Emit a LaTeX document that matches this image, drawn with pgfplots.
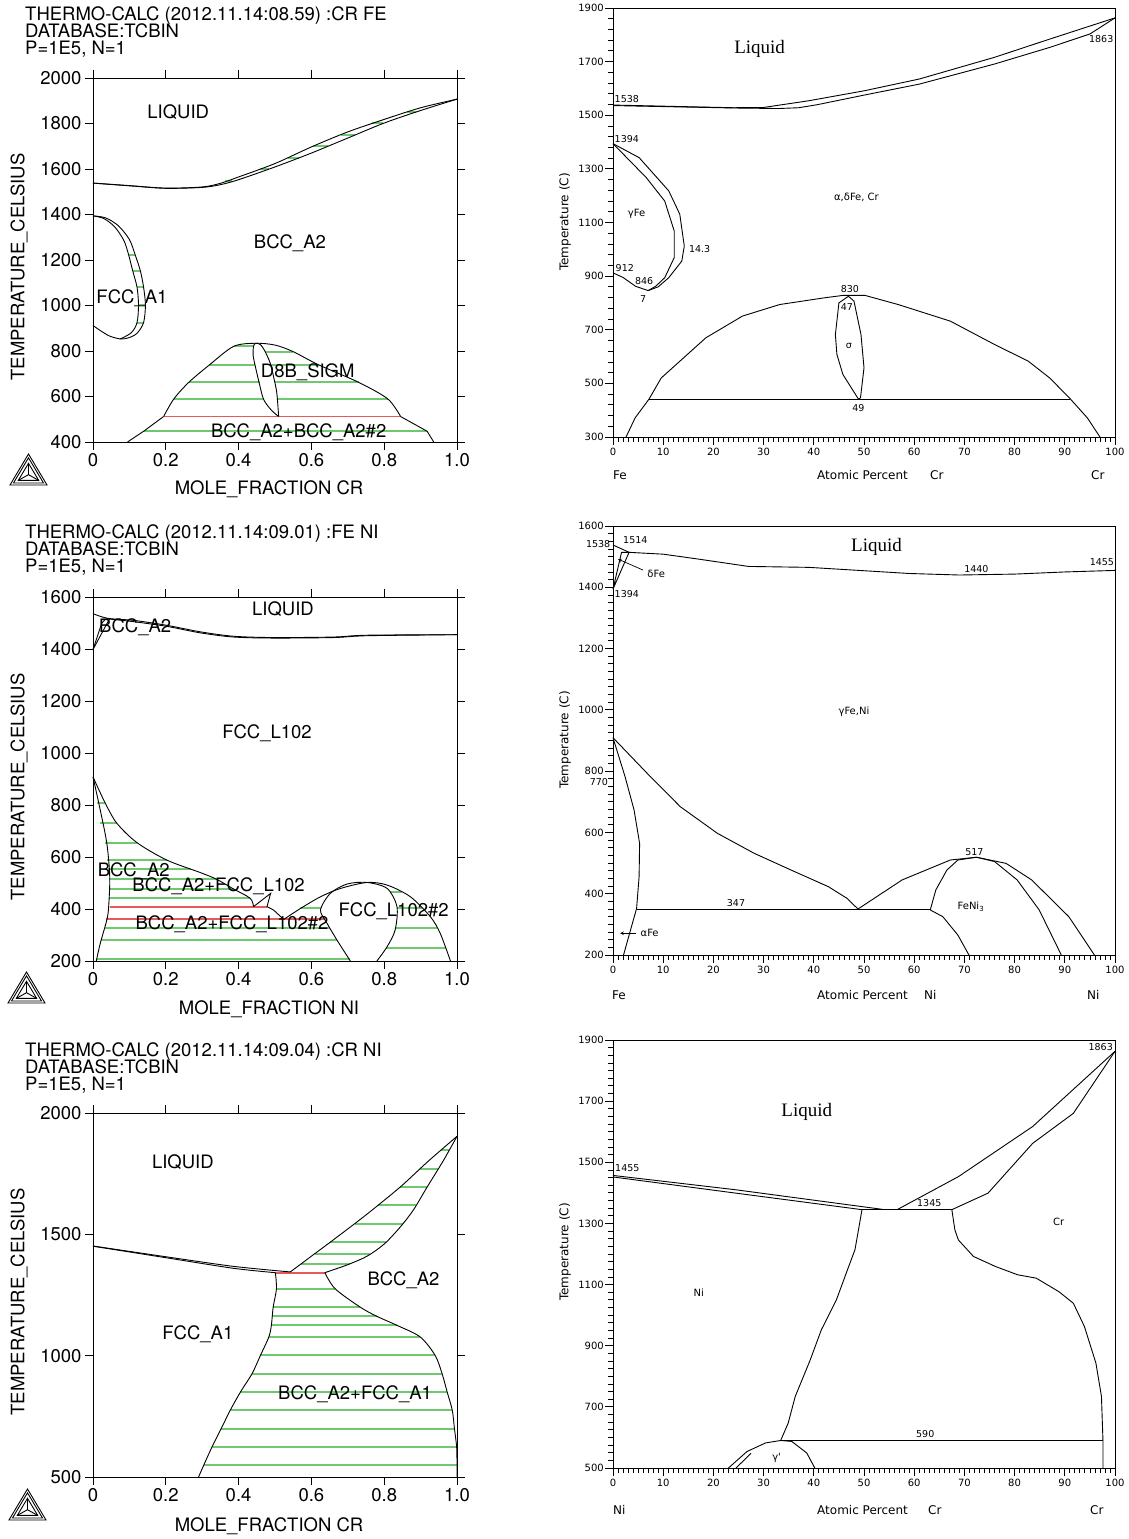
\documentclass[border=0pt]{standalone}
\usepackage{pgfplots}
\pgfplotsset{compat=1.18}
\usepackage{fontspec}
\setmainfont{TeX Gyre Heros}
\newfontfamily\heros{TeX Gyre Heros}
\newfontfamily\dvs{DejaVu Sans}
\newfontfamily\tms{Liberation Serif}
\definecolor{tcgreen}{RGB}{110,200,110}
\definecolor{tcred}{RGB}{232,90,90}
\newcommand{\fL}{\heros\fontsize{18.5}{18.5}\selectfont}
\newcommand{\fR}{\dvs\fontsize{10}{10}\selectfont}
\newcommand{\fRl}{\dvs\fontsize{12}{12}\selectfont}
\newcommand{\fRs}{\dvs\fontsize{9.5}{9.5}\selectfont}
\newcommand{\fT}{\tms\fontsize{19}{19}\selectfont}
\newcommand{\tclogo}[2]{%
 \begin{scope}[shift={(#1pt,#2pt)},line width=0.9pt]
  \draw (0pt,0pt)--(37pt,0pt)--(18.5pt,31pt)--cycle;
  \draw (3.5pt,2pt)--(33.5pt,2pt)--(18.5pt,27.2pt)--cycle;
  \draw (8.3pt,4.6pt)--(28.7pt,4.6pt)--(18.5pt,21.7pt)--cycle;
  \draw (18.5pt,10.3pt)--(8.3pt,4.6pt) (18.5pt,10.3pt)--(28.7pt,4.6pt) (18.5pt,10.3pt)--(18.5pt,21.7pt);
 \end{scope}}
\pgfplotsset{
  tcax/.style={width=364pt,height=364pt,scale only axis,anchor=south west,
    xmin=0,xmax=1,xtick={0,0.2,0.4,0.6,0.8,1},xticklabels={0,0.2,0.4,0.6,0.8,1.0},
    tick align=outside, major tick length=8pt,
    tick style={black,line width=0.8pt},
    axis line style={line width=0.9pt},
    ticklabel style={font=\fL},
    clip=false, unbounded coords=jump},
  stdax/.style={width=502pt,scale only axis,anchor=south west,
    xmin=0,xmax=100,xtick={0,10,...,100},minor x tick num=9,
    xticklabels={0,10,20,30,40,50,60,70,80,90,100},
    xtick pos=left, ytick pos=left,
    tick align=outside, major tick length=8pt, minor tick length=5pt,
    tick style={black,line width=0.8pt},
    axis line style={line width=0.9pt},
    ticklabel style={font=\fR},
    yticklabel style={inner xsep=1pt},
    clip=false, unbounded coords=jump},
  bl/.style={black,line width=0.9pt,no markers},
  gr/.style={tcgreen,line width=2pt,no markers},
  rd/.style={tcred,line width=1.8pt,no markers},
}
\begin{document}
\begin{tikzpicture}
\useasboundingbox (0pt,0pt) rectangle (1129pt,1539pt);

% ================= Panel 1: Cr-Fe Thermo-Calc =================
\begin{axis}[tcax, at={(93pt,1097pt)},
  ymin=400,ymax=2000,ytick={400,600,...,2000},
  yticklabels={400,600,800,1000,1200,1400,1600,1800,2000}]
\addplot[gr] coordinates {(0.364,1545)(0.382,1545)(nan,nan)(0.459,1600)(0.484,1600)(nan,nan)
 (0.536,1650)(0.567,1650)(nan,nan)(0.605,1700)(0.645,1700)(nan,nan)(0.680,1750)(0.721,1750)(nan,nan)
 (0.767,1800)(0.797,1800)(nan,nan)(0.863,1850)(0.887,1850)};
\addplot[gr] coordinates {(0.098,1222)(0.116,1222)(nan,nan)(0.109,1153)(0.130,1153)(nan,nan)
 (0.121,1080)(0.139,1080)(nan,nan)(0.125,1002)(0.144,1002)(nan,nan)(0.121,925)(0.139,925)};
\addplot[gr] coordinates {(0.386,820)(0.441,820)(nan,nan)(0.472,797)(0.55,797)(nan,nan)
 (0.32,739)(0.445,739)(nan,nan)(0.488,739)(0.62,739)(nan,nan)(0.263,662)(0.458,662)(nan,nan)
 (0.499,662)(0.73,662)(nan,nan)(0.222,589)(0.468,589)(nan,nan)(0.506,589)(0.81,589)(nan,nan)
 (0.139,447)(0.918,447)};
\addplot[rd] coordinates {(0.194,512)(0.845,512)};
\addplot[bl,smooth] coordinates {(0,1538)(0.1,1527)(0.2,1516)(0.3,1521)(0.35,1537)(0.4,1565)(0.5,1624)(0.6,1697)(0.7,1763)(0.8,1818)(0.9,1869)(1,1907)};
\addplot[bl,smooth] coordinates {(0,1538)(0.1,1526)(0.2,1515)(0.3,1519)(0.35,1531)(0.4,1553)(0.5,1609)(0.6,1670)(0.7,1736)(0.8,1802)(0.9,1857)(1,1907)};
\addplot[bl,smooth] coordinates {(0,1394)(0.03,1382)(0.06,1345)(0.085,1285)(0.098,1222)(0.109,1153)(0.121,1080)(0.125,1002)(0.121,925)(0.105,880)(0.075,853)};
\addplot[bl,smooth] coordinates {(0,1394)(0.035,1385)(0.07,1350)(0.1,1290)(0.116,1222)(0.130,1153)(0.139,1080)(0.144,1002)(0.139,925)(0.121,878)(0.098,858)(0.075,853)(0.045,866)(0.02,890)(0,912)};
\addplot[bl] coordinates {(0.095,400)(0.139,447)(0.194,512)};
\addplot[bl,smooth] coordinates {(0.194,512)(0.222,589)(0.263,662)(0.32,739)(0.386,820)(0.446,834)(0.50,826)(0.55,797)(0.62,739)(0.73,662)(0.81,589)(0.845,512)};
\addplot[bl] coordinates {(0.845,512)(0.918,447)(0.936,400)};
\addplot[bl,smooth] coordinates {(0.51,512)(0.49,540)(0.469,586)(0.458,650)(0.446,732)(0.440,780)(0.441,820)(0.447,834)(0.46,828)(0.472,800)(0.487,746)(0.497,680)(0.505,615)(0.51,512)};
\node[font=\fL] at (axis cs:0.234,1851) {LIQUID};
\node[font=\fL] at (axis cs:0.541,1275) {BCC\_A2};
\node[font=\fL] at (axis cs:0.107,1032) {FCC\_A1};
\node[font=\fL] at (axis cs:0.59,708) {D8B\_SIGM};
\node[font=\fL] at (axis cs:0.565,444) {BCC\_A2+BCC\_A2\#2};
\end{axis}
\node[font=\fL,anchor=base west,inner sep=0pt] at (25pt,1518.5pt) {THERMO-CALC (2012.11.14:08.59) :CR FE};
\node[font=\fL,anchor=base west,inner sep=0pt] at (25pt,1501.5pt) {DATABASE:TCBIN};
\node[font=\fL,anchor=base west,inner sep=0pt] at (25pt,1484.5pt) {P=1E5, N=1};
\node[font=\fL,rotate=90] at (19pt,1272pt) {TEMPERATURE\_CELSIUS};
\node[font=\fL,anchor=base] at (269pt,1044pt) {MOLE\_FRACTION CR};
\tclogo{10}{1054}

% ================= Panel 2: Fe-Cr standard =================
\begin{axis}[stdax, height=429pt, at={(613pt,1102pt)},
  ymin=300,ymax=1900,ytick={300,500,...,1900},minor y tick num=4,
  yticklabels={300,500,700,900,1100,1300,1500,1700,1900}]
\addplot[bl] coordinates {(0,1538)(12,1533)(24,1528)(30,1529)(39,1554)(50,1591)(61,1635)(76,1716)(87,1784)(100,1863)};
\addplot[bl] coordinates {(0,1536)(24,1527)(33,1525)(37,1528)(40.6,1539)(50,1575)(61,1616)(76,1691)(87,1753)(95,1803)(100,1863)};
\addplot[bl] coordinates {(0,1394)(5.2,1342)(11.1,1218)(13.3,1131)(14.2,1012)(13.7,956)(11.1,894)(9,860)(7,846)};
\addplot[bl] coordinates {(0,1394)(6.6,1268)(10.3,1180)(12.2,1068)(12.2,969)(10.3,894)(8.5,862)(7,846)};
\addplot[bl] coordinates {(0,912)(2,895)(4.5,862)(7,846)};
\addplot[bl] coordinates {(2.6,300)(4.4,371)(7.2,442)(9.6,520)(18.5,670)(25.8,751)(33.2,794)(42.1,819)(45.8,828)(50.2,828)(56.8,794)(67.2,732)(76,645)(82.7,583)(87,520)(91.1,442)(94.5,371)(97,300)};
\addplot[bl] coordinates {(7.2,441)(91.1,441)};
\addplot[bl] coordinates {(48.9,441)(45.8,533)(44.6,608)(44.3,682)(45,800)(46.9,825)(48,807)(49.4,682)(50,558)(49.3,446)(48.9,441)};
\node[font=\fRs,anchor=west,inner sep=0.5pt] at (axis cs:0.2,1562) {1538};
\node[font=\fRs,anchor=west,inner sep=0.5pt] at (axis cs:0.2,1413) {1394};
\node[font=\fRs,anchor=west,inner sep=0.5pt] at (axis cs:15,1000) {14.3};
\node[font=\fRs,anchor=west,inner sep=0.5pt] at (axis cs:0.4,931) {912};
\node[font=\fRs] at (axis cs:6.2,882) {846};
\node[font=\fRs] at (axis cs:6,813) {7};
\node[font=\fRs] at (axis cs:47.2,850) {830};
\node[font=\fRs] at (axis cs:46.6,786) {47};
\node[font=\fRs] at (axis cs:47,639) {σ};
\node[font=\fRs] at (axis cs:48.9,408) {49};
\node[font=\fRs,anchor=east,inner sep=0.5pt] at (axis cs:99.8,1784) {1863};
\node[font=\fT] at (axis cs:29.2,1747) {Liquid};
\node[font=\fR] at (axis cs:48.5,1193) {α,δFe, Cr};
\node[font=\fR] at (axis cs:4.7,1131) {γFe};
\end{axis}
\node[font=\fRl,rotate=90] at (565pt,1317pt) {Temperature (C)};
\node[font=\fRl,anchor=base west,inner sep=0pt] at (613pt,1059pt) {Fe};
\node[font=\fRl,anchor=base west,inner sep=0pt] at (817pt,1059pt) {Atomic Percent};
\node[font=\fRl,anchor=base west,inner sep=0pt] at (930pt,1059pt) {Cr};
\node[font=\fRl,anchor=base west,inner sep=0pt] at (1091pt,1059pt) {Cr};

% ================= Panel 3: Fe-Ni Thermo-Calc =================
\begin{axis}[tcax, at={(93pt,578pt)},
  ymin=200,ymax=1600,ytick={200,400,...,1600},
  yticklabels={200,400,600,800,1000,1200,1400,1600}]
\addplot[gr] coordinates {(0.011,806)(0.034,806)(nan,nan)(0.02,729)(0.066,729)(nan,nan)
 (0.034,655)(0.121,655)(nan,nan)(0.039,588)(0.203,588)(nan,nan)(0.041,552)(0.27,552)(nan,nan)
 (0.044,514)(0.34,514)(nan,nan)(0.045,477)(0.386,477)(nan,nan)(0.045,441)(0.432,441)(nan,nan)
 (0.032,326)(0.651,326)(nan,nan)(0.023,281)(0.67,281)(nan,nan)(0.01,206)(0.705,206)(nan,nan)
 (0.57,402)(0.625,402)(nan,nan)(0.815,466)(0.85,466)(nan,nan)(0.835,402)(0.904,402)(nan,nan)
 (0.832,328)(0.945,328)(nan,nan)(0.806,251)(0.969,251)};
\addplot[rd] coordinates {(0.046,409)(0.478,409)};
\addplot[rd] coordinates {(0.037,360)(0.638,360)};
\addplot[rd] coordinates {(0.035,1517)(0.05,1517)};
\addplot[bl,smooth] coordinates {(0,1536)(0.04,1518)(0.112,1510)(0.203,1491)(0.295,1466)(0.386,1449)(0.496,1444)(0.661,1446)(0.753,1453)(1,1455)};
\addplot[bl,smooth] coordinates {(0.045,1515)(0.112,1505)(0.203,1487)(0.295,1462)(0.386,1446)(0.496,1442)(0.661,1444)(0.753,1451)(1,1455)};
\addplot[bl] coordinates {(0,1398)(0.024,1499)(0.035,1516)};
\addplot[bl] coordinates {(0,1398)(0.045,1515)};
\addplot[bl,smooth] coordinates {(0,908)(0.02,780)(0.038,652)(0.046,524)(0.043,409)(0.038,358)(0.02,268)(0.009,200)};
\addplot[bl,smooth] coordinates {(0,908)(0.034,806)(0.066,729)(0.121,655)(0.203,588)(0.295,540)(0.34,514)(0.386,477)(0.432,441)(0.441,409)};
\addplot[bl] coordinates {(0.441,409)(0.488,460)(0.478,409)(0.496,396)(0.524,360)};
\addplot[bl,smooth] coordinates {(0.524,360)(0.57,402)(0.625,447)(0.68,479)(0.753,502)(0.808,492)(0.872,447)(0.927,370)(0.954,306)(0.982,200)};
\addplot[bl,smooth] coordinates {(0.707,200)(0.67,281)(0.643,345)(0.625,396)(0.652,460)(0.698,496)(0.753,502)(0.808,479)(0.835,409)(0.83,319)(0.808,255)(0.78,200)};
\node[font=\fL] at (axis cs:0.522,1553) {LIQUID};
\node[font=\fL] at (axis cs:0.116,1485) {BCC\_A2};
\node[font=\fL] at (axis cs:0.478,1075) {FCC\_L102};
\node[font=\fL] at (axis cs:0.112,547) {BCC\_A2};
\node[font=\fL] at (axis cs:0.345,486) {BCC\_A2+FCC\_L102};
\node[font=\fL] at (axis cs:0.382,341) {BCC\_A2+FCC\_L102\#2};
\node[font=\fL] at (axis cs:0.826,390) {FCC\_L102\#2};
\end{axis}
\node[font=\fL,anchor=base west,inner sep=0pt] at (25pt,1000pt) {THERMO-CALC (2012.11.14:09.01) :FE NI};
\node[font=\fL,anchor=base west,inner sep=0pt] at (25pt,983pt) {DATABASE:TCBIN};
\node[font=\fL,anchor=base west,inner sep=0pt] at (25pt,966pt) {P=1E5, N=1};
\node[font=\fL,rotate=90] at (19pt,752pt) {TEMPERATURE\_CELSIUS};
\node[font=\fL,anchor=base] at (269pt,524pt) {MOLE\_FRACTION NI};
\tclogo{8}{536}

% ================= Panel 4: Fe-Ni standard =================
\begin{axis}[stdax, height=429pt, at={(613pt,584pt)},
  ymin=200,ymax=1600,ytick={200,400,...,1600},minor y tick num=7,
  yticklabels={200,400,600,800,1000,1200,1400,1600}]
\addplot[bl] coordinates {(0,1538)(3.2,1514)(10,1508)(17,1492)(27,1468)(39,1465)(49,1455)(59,1445)(69,1440)(80,1443)(90,1450)(100,1455)};
\addplot[bl] coordinates {(0,1394)(1.7,1514)(3.2,1514)(0,1394)};
\addplot[bl] coordinates {(0,909)(2.4,782)(4.2,673)(5.3,564)(5.2,456)(4.7,352)(3.5,282)(2.1,200)};
\addplot[bl] coordinates {(0,909)(6.8,793)(13.4,684)(20.8,597)(28.1,532)(35.5,477)(42.9,423)(46.6,385)(48.8,350)};
\addplot[bl] coordinates {(4.7,347)(63.2,347)};
\addplot[bl] coordinates {(48.8,350)(57.6,445)(67.2,510)(72.4,519)(78.3,499)(83.4,445)(90.8,325)(95.9,200)};
\addplot[bl] coordinates {(63.2,347)(64.3,412)(66.5,477)(68.7,510)(72.4,519)(76,505)(80.5,445)(84.9,347)(89.3,200)};
\addplot[bl] coordinates {(63.2,347)(65.7,325)(68.7,265)(70.9,200)};
\draw[line width=0.7pt,-stealth] (axis cs:6,1456) -- (axis cs:1,1492);
\draw[line width=0.7pt,-stealth] (axis cs:4.6,271) -- (axis cs:1.4,271);
\node[font=\fRs,anchor=east,inner sep=0.5pt] at (axis cs:-0.4,1540) {1538};
\node[font=\fRs,anchor=west,inner sep=0.5pt] at (axis cs:1.9,1554) {1514};
\node[font=\fRs,anchor=west,inner sep=0.5pt] at (axis cs:0.2,1378) {1394};
\node[font=\fR] at (axis cs:8.6,1445) {δFe};
\node[font=\fRs] at (axis cs:72.4,1458) {1440};
\node[font=\fRs] at (axis cs:97.4,1481) {1455};
\node[font=\fT] at (axis cs:52.5,1532) {Liquid};
\node[font=\fR] at (axis cs:48,994) {γFe,Ni};
\node[font=\fRs] at (axis cs:-2.8,766) {770};
\node[font=\fRs] at (axis cs:72,537) {517};
\node[font=\fRs] at (axis cs:24.5,369) {347};
\node[font=\fR] at (axis cs:71.3,358) {FeNi\textsubscript{3}};
\node[font=\fR] at (axis cs:7.3,271) {αFe};
\end{axis}
\node[font=\fRl,rotate=90] at (565pt,799pt) {Temperature (C)};
\node[font=\fRl,anchor=base west,inner sep=0pt] at (612pt,539pt) {Fe};
\node[font=\fRl,anchor=base west,inner sep=0pt] at (817pt,539pt) {Atomic Percent};
\node[font=\fRl,anchor=base west,inner sep=0pt] at (924pt,539pt) {Ni};
\node[font=\fRl,anchor=base west,inner sep=0pt] at (1087pt,539pt) {Ni};

% ================= Panel 5: Cr-Ni Thermo-Calc =================
\begin{axis}[tcax, at={(93pt,62pt)},
  ymin=500,ymax=2000,ytick={500,1000,1500,2000},
  yticklabels={500,1000,1500,2000}]
\addplot[gr] coordinates {(0.572,1379)(0.706,1379)(nan,nan)(0.609,1420)(0.762,1420)(nan,nan)
 (0.652,1468)(0.805,1468)(nan,nan)(0.719,1544)(0.851,1544)(nan,nan)(0.782,1619)(0.888,1619)(nan,nan)
 (0.844,1695)(0.918,1695)(nan,nan)(0.899,1771)(0.949,1771)(nan,nan)(0.955,1846)(0.978,1846)};
\addplot[gr] coordinates {(0.504,1276)(0.665,1276)(nan,nan)(0.495,1200)(0.734,1200)(nan,nan)
 (0.492,1162)(0.78,1162)(nan,nan)(0.49,1125)(0.835,1125)(nan,nan)(0.483,1077)(0.899,1077)(nan,nan)
 (0.46,1001)(0.94,1001)(nan,nan)(0.437,926)(0.959,926)(nan,nan)(0.405,850)(0.973,850)(nan,nan)
 (0.377,775)(0.987,775)(nan,nan)(0.352,699)(0.993,699)(nan,nan)(0.327,624)(0.999,624)(nan,nan)
 (0.304,548)(1,548)};
\addplot[rd] coordinates {(0.501,1342)(0.637,1342)};
\addplot[bl,smooth] coordinates {(0,1452)(0.203,1407)(0.386,1368)(0.542,1345)};
\addplot[bl,smooth] coordinates {(0,1451)(0.203,1403)(0.386,1360)(0.501,1342)};
\addplot[bl,smooth] coordinates {(0.542,1345)(0.60,1410)(0.661,1478)(0.75,1580)(0.844,1695)(0.92,1800)(1,1904)};
\addplot[bl,smooth] coordinates {(0.637,1342)(0.70,1375)(0.753,1410)(0.80,1460)(0.844,1530)(0.88,1600)(0.918,1695)(0.963,1805)(1,1904)};
\addplot[bl,smooth] coordinates {(0.501,1342)(0.504,1276)(0.495,1200)(0.49,1125)(0.483,1077)(0.46,1001)(0.437,926)(0.405,850)(0.377,775)(0.352,699)(0.327,624)(0.304,548)(0.29,500)};
\addplot[bl,smooth] coordinates {(0.637,1342)(0.665,1276)(0.734,1200)(0.78,1162)(0.835,1125)(0.899,1077)(0.94,1001)(0.959,926)(0.973,850)(0.987,775)(0.993,699)(0.999,624)(1,548)(1,500)};
\node[font=\fL] at (axis cs:0.247,1798) {LIQUID};
\node[font=\fL] at (axis cs:0.853,1310) {BCC\_A2};
\node[font=\fL] at (axis cs:0.288,1088) {FCC\_A1};
\node[font=\fL] at (axis cs:0.72,843) {BCC\_A2+FCC\_A1};
\end{axis}
\node[font=\fL,anchor=base west,inner sep=0pt] at (25pt,482.5pt) {THERMO-CALC (2012.11.14:09.04) :CR NI};
\node[font=\fL,anchor=base west,inner sep=0pt] at (25pt,465.5pt) {DATABASE:TCBIN};
\node[font=\fL,anchor=base west,inner sep=0pt] at (25pt,448.5pt) {P=1E5, N=1};
\node[font=\fL,rotate=90] at (19pt,237pt) {TEMPERATURE\_CELSIUS};
\node[font=\fL,anchor=base] at (269pt,7.5pt) {MOLE\_FRACTION CR};
\tclogo{9}{19}

% ================= Panel 6: Ni-Cr standard =================
\begin{axis}[stdax, height=428pt, at={(613pt,71pt)},
  ymin=500,ymax=1900,ytick={500,700,...,1900},minor y tick num=7,
  yticklabels={500,700,900,1100,1300,1500,1700,1900}]
\addplot[bl] coordinates {(0,1457)(24.5,1410)(53.7,1346)};
\addplot[bl] coordinates {(0,1452)(24.5,1399)(49.6,1345)};
\addplot[bl] coordinates {(49.6,1345)(67.5,1345)};
\addplot[bl] coordinates {(56.6,1345)(68.8,1453)(83.6,1617)(100,1863)};
\addplot[bl] coordinates {(67.5,1345)(74.7,1399)(83.6,1562)(91.7,1660)(100,1863)};
\addplot[bl] coordinates {(49.6,1345)(48.9,1279)(48.2,1214)(46.7,1148)(44.5,1050)(41.5,952)(39.3,854)(36.3,734)(34.9,647)(33.4,590)};
\addplot[bl] coordinates {(67.5,1345)(68.1,1279)(68.8,1246)(71.8,1192)(76.2,1159)(80.6,1132)(84.3,1121)(88.8,1077)(91.7,1039)(93.9,963)(96.2,843)(97.3,734)(97.6,590)(97.6,500)};
\addplot[bl] coordinates {(33.4,590)(97.6,590)};
\addplot[bl] coordinates {(23,500)(26.7,554)(30.4,582)(33.4,590)(35.6,587)(38.6,549)(40.2,500)};
\addplot[bl] coordinates {(24.5,500)(27.5,548)};
\node[font=\fRs,anchor=west,inner sep=0.5pt] at (axis cs:0.3,1481) {1455};
\node[font=\fRs] at (axis cs:63,1366) {1345};
\node[font=\fRs,anchor=east,inner sep=0.5pt] at (axis cs:99.7,1878) {1863};
\node[font=\fT] at (axis cs:38.6,1666) {Liquid};
\node[font=\fR] at (axis cs:88.8,1306) {Cr};
\node[font=\fR] at (axis cs:17.1,1072) {Ni};
\node[font=\fRs] at (axis cs:62.2,612) {590};
\node[font=\fR] at (axis cs:32.6,533) {γ'};
\end{axis}
\node[font=\fRl,rotate=90] at (565pt,287pt) {Temperature (C)};
\node[font=\fRl,anchor=base west,inner sep=0pt] at (613pt,24pt) {Ni};
\node[font=\fRl,anchor=base west,inner sep=0pt] at (817pt,24pt) {Atomic Percent};
\node[font=\fRl,anchor=base west,inner sep=0pt] at (928pt,24pt) {Cr};
\node[font=\fRl,anchor=base west,inner sep=0pt] at (1090pt,24pt) {Cr};
\end{tikzpicture}
\end{document}
